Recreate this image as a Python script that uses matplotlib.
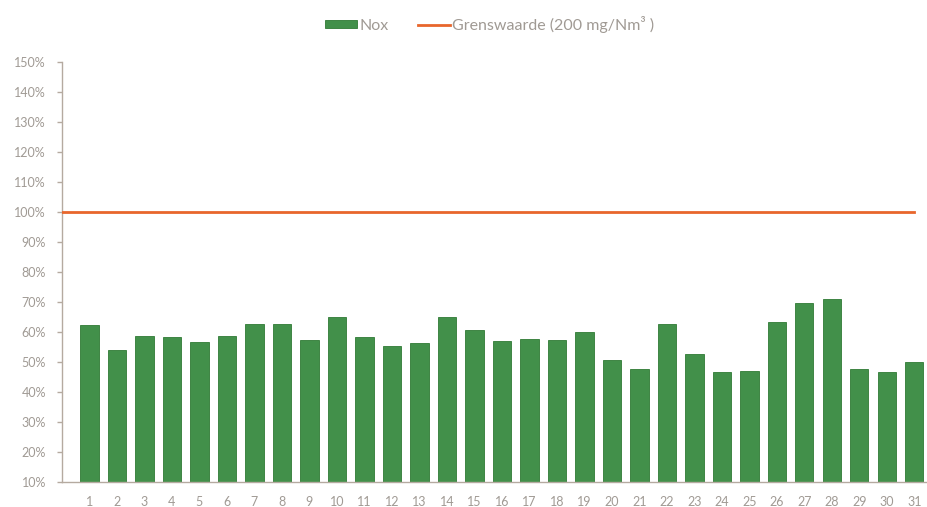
import numpy as np
import matplotlib
matplotlib.use("Agg")
import matplotlib.pyplot as plt
from matplotlib.ticker import FuncFormatter

plt.rcParams['font.family'] = ['Lato', 'DejaVu Sans']

days = list(range(1, 32))
nox = [62.3, 53.9, 58.8, 58.2, 56.8, 58.6, 62.7, 62.8, 57.4, 64.9,
       58.4, 55.3, 56.4, 65.0, 60.8, 57.0, 57.8, 57.4, 59.9, 50.7,
       47.8, 62.8, 52.7, 46.7, 47.1, 63.2, 69.6, 70.9, 47.6, 46.8, 50.0]
limit_x = [0, 31]
limit_y = [100, 100]
yticks = list(range(10, 151, 10))

text_col = '#a09a94'
green = '#42904a'
orange = '#e8662c'

fig = plt.figure(figsize=(9.28, 5.07), dpi=100)
ax = fig.add_axes([62 / 928, 1 - 482 / 507, 1 - 62 / 928, (482 - 62) / 507])

bars = ax.bar(days, nox, width=0.67, bottom=0, color=green, edgecolor='#2f7a34',
              linewidth=0.6, label='Nox', zorder=2)
line, = ax.plot(limit_x, limit_y, color=orange, linewidth=2,
                label='Grenswaarde (200 mg/Nm\u00b3 )', zorder=3)

ax.set_xlim(0, 31.5)
ax.set_ylim(10, 150)
ax.set_yticks(yticks)
ax.yaxis.set_major_formatter(FuncFormatter(lambda v, p: '%d%%' % v))
ax.set_xticks(days)
ax.set_xticklabels([str(d) for d in days])

for s in ['top', 'right']:
    ax.spines[s].set_visible(False)
for s in ['left', 'bottom']:
    ax.spines[s].set_color('#b5aaa0')
    ax.spines[s].set_linewidth(1)

ax.tick_params(axis='y', colors='#b5aaa0', labelcolor=text_col, labelsize=9,
               length=3.5, width=1, direction='out', pad=8)
ax.tick_params(axis='x', length=0, labelcolor=text_col, labelsize=9, pad=10)

ax.legend([bars, line], ['Nox', 'Grenswaarde (200 mg/Nm\u00b3 )'],
          loc='center', bbox_to_anchor=(0.494, 1 + 38 / 420), ncol=2, frameon=False,
          fontsize=11.5, labelcolor=text_col, handlelength=2.0, handleheight=0.45,
          columnspacing=1.8, handletextpad=0.15)

fig.savefig('out.png', dpi=100)
